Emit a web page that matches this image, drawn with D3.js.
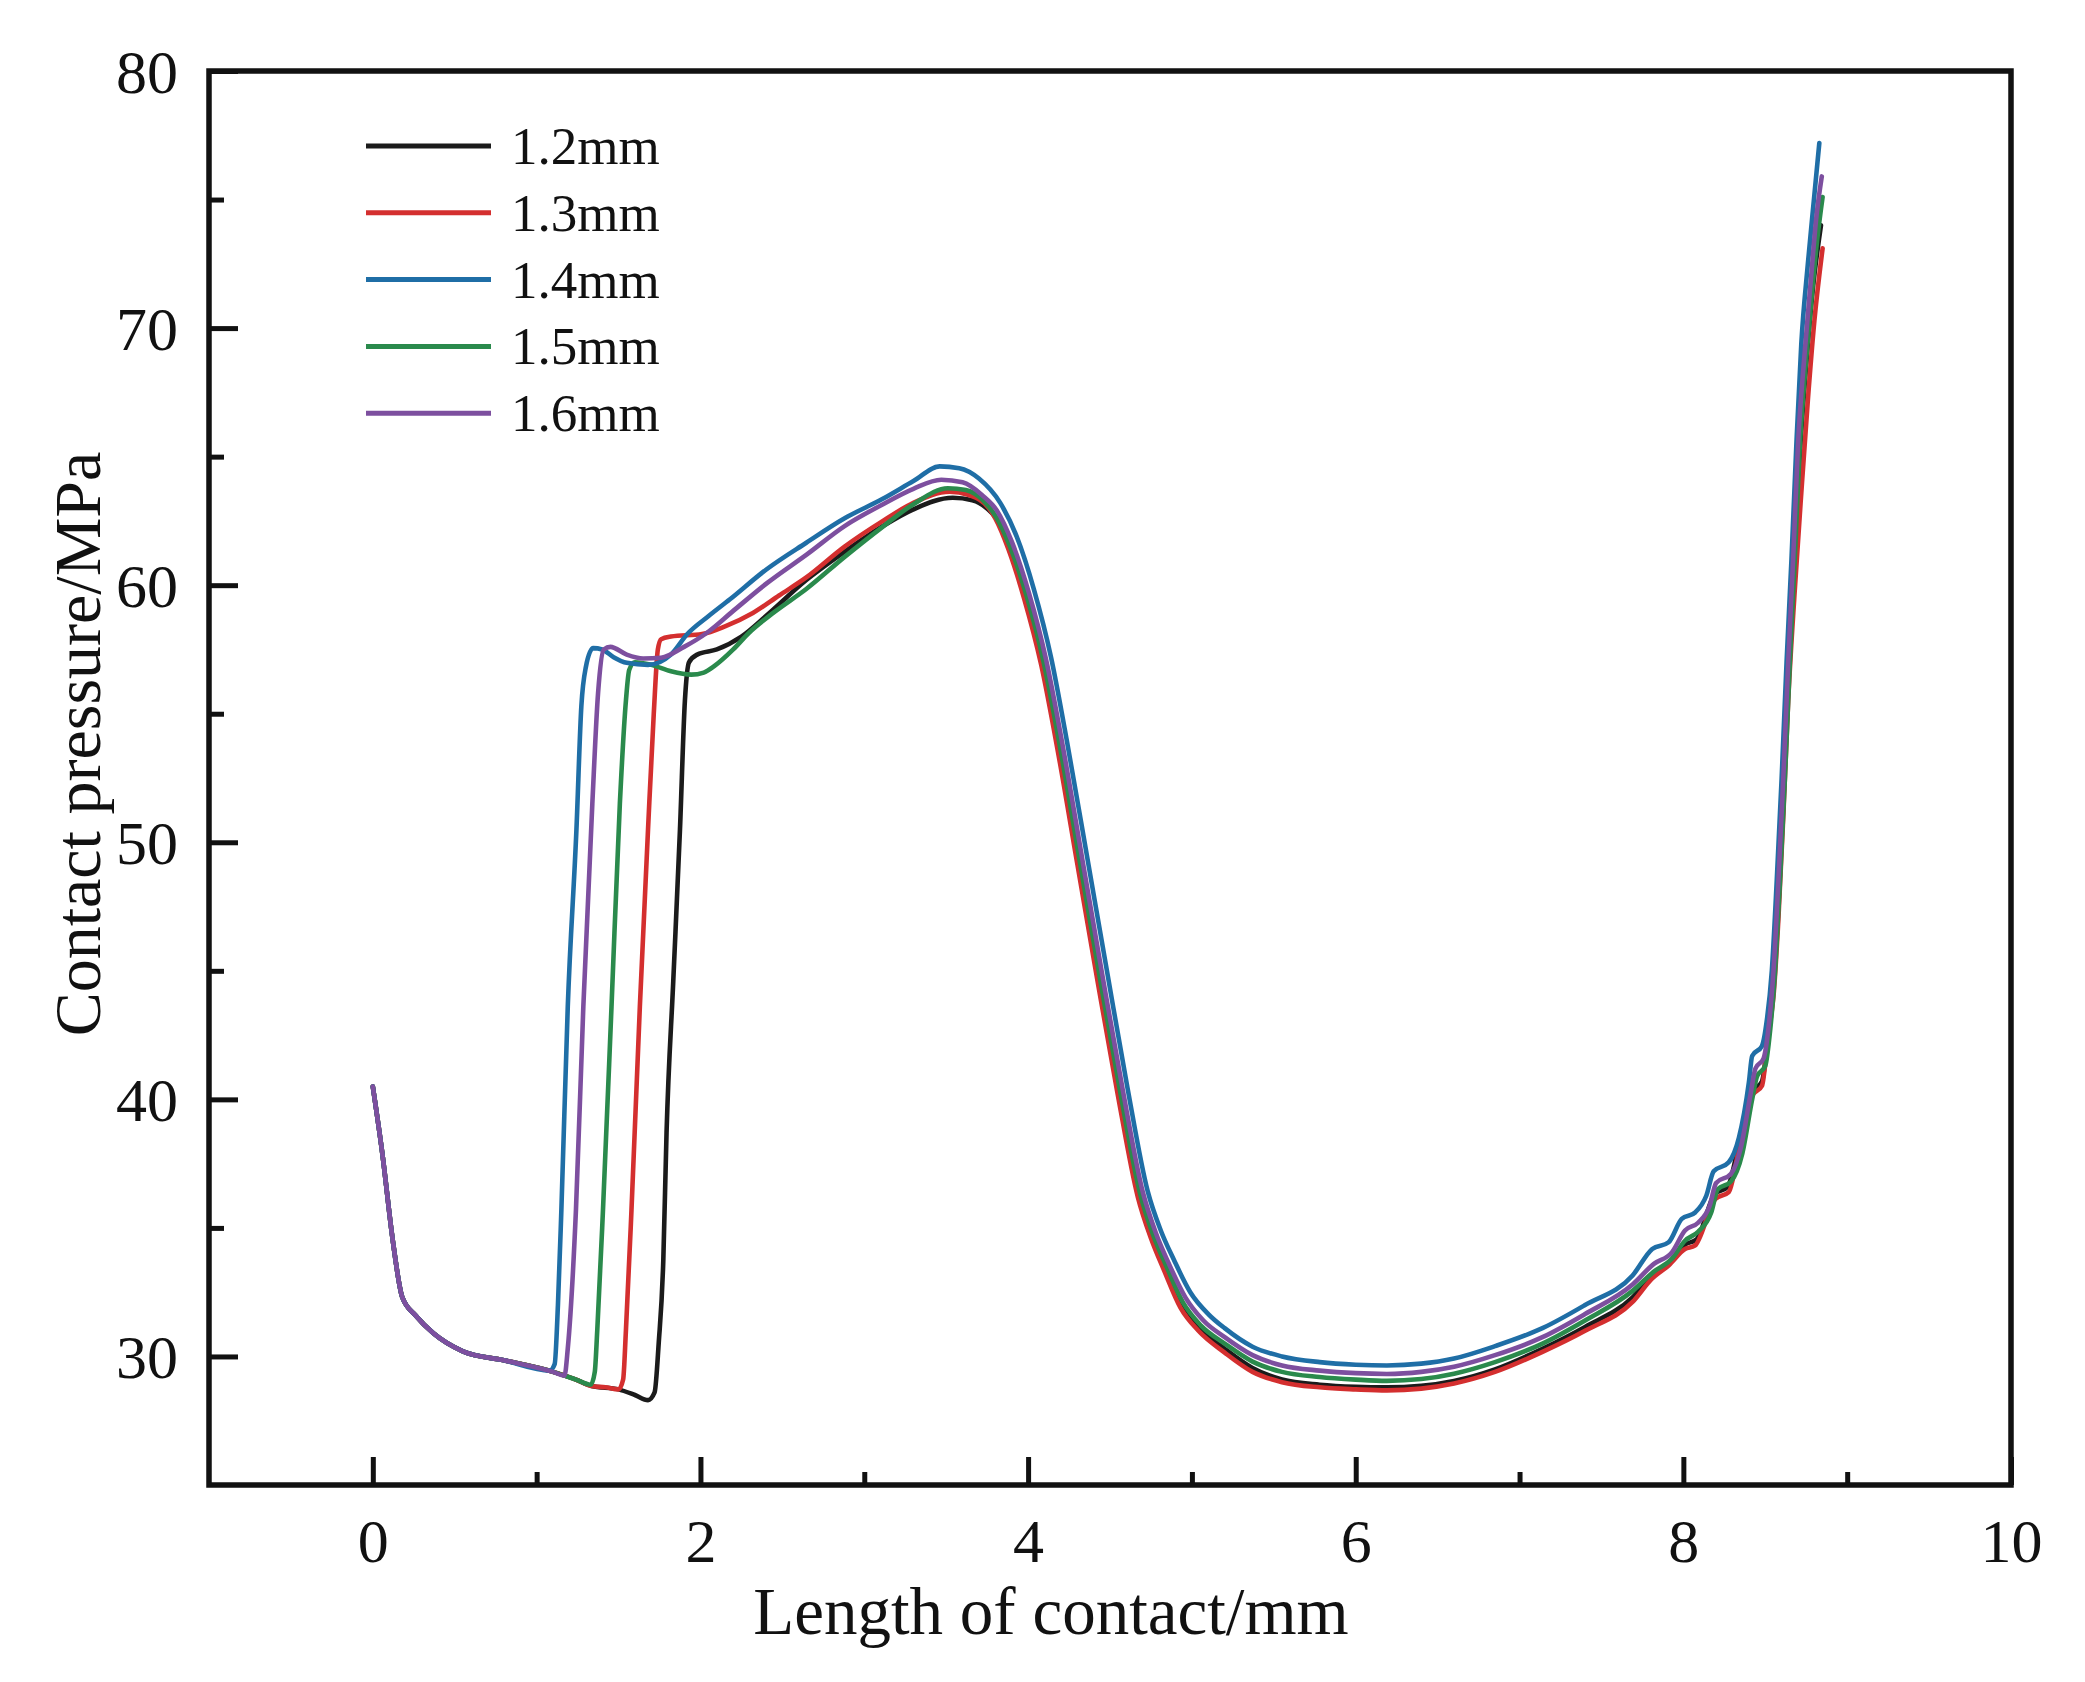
<!DOCTYPE html>
<html>
<head>
<meta charset="utf-8">
<script src="https://cdn.jsdelivr.net/npm/d3@7"></script>
<style>
  html, body { margin: 0; padding: 0; background: #ffffff; }
  svg { display: block; }
  text { font-family: "Liberation Serif", "Times New Roman", serif; fill: #111; }
</style>
</head>
<body>
<svg id="chart" width="2085" height="1682"></svg>
<script>
// ---------------- DATA ----------------
const seriesNames = ["1.2mm", "1.3mm", "1.4mm", "1.5mm", "1.6mm"];
const xTickValues = [0, 2, 4, 6, 8, 10];
const xMinorTicks = [1, 3, 5, 7, 9];
const yTickValues = [30, 40, 50, 60, 70, 80];
const yMinorTicks = [35, 45, 55, 65, 75];

const s12 = [[0,40.5],[0.06,37.8],[0.12,34.6],[0.18,32.3],[0.26,31.6],[0.37,30.9],[0.55,30.2],[0.8,29.85],[1.1,29.4],[1.24,29.1],[1.335,28.85],[1.5,28.72],[1.6,28.5],[1.68,28.3],[1.72,28.6],[1.745,30.5],[1.773,33.7],[1.793,38.7],[1.834,44.6],[1.875,50.5],[1.905,55.5],[1.93,57.0],[1.98,57.3],[2.1,57.5],[2.25,58.0],[2.4,58.8],[2.646,60.2],[2.88,61.3],[3.114,62.3],[3.3,62.95],[3.54,63.4],[3.66,63.3],[3.78,62.8],[3.82,62.5],[3.9,61.3],[3.985,59.5],[4.085,56.9],[4.185,53.6],[4.307,49.1],[4.429,44.6],[4.552,40.2],[4.675,36.2],[4.755,34.6],[4.835,33.4],[4.935,32.0],[5.045,31.1],[5.2,30.3],[5.37,29.55],[5.55,29.1],[5.78,28.9],[6.0,28.82],[6.19,28.8],[6.4,28.86],[6.6,29.05],[6.85,29.5],[7.14,30.3],[7.4,31.15],[7.69,32.3],[7.81,33.15],[7.92,33.7],[8.01,34.35],[8.08,34.55],[8.19,36.3],[8.27,36.6],[8.35,38.6],[8.42,40.3],[8.48,40.7],[8.52,42.7],[8.55,44.5],[8.58,47.5],[8.61,51.5],[8.64,56],[8.67,60],[8.71,65],[8.75,68.6],[8.79,71.5],[8.84,74.0]];

const s13 = [[0,40.5],[0.06,37.8],[0.12,34.6],[0.18,32.3],[0.26,31.6],[0.37,30.9],[0.55,30.2],[0.8,29.85],[1.1,29.4],[1.24,29.1],[1.335,28.85],[1.42,28.8],[1.5,28.72],[1.528,29.1],[1.545,31],[1.579,35.7],[1.63,43.6],[1.68,50.5],[1.715,55],[1.74,57.5],[1.76,57.9],[1.82,58.0],[2.01,58.1],[2.15,58.4],[2.32,58.92],[2.48,59.6],[2.646,60.3],[2.88,61.5],[3.114,62.5],[3.3,63.2],[3.52,63.64],[3.64,63.5],[3.76,63.0],[3.8,62.6],[3.88,61.4],[3.975,59.5],[4.08,56.9],[4.18,53.6],[4.302,49.1],[4.424,44.6],[4.547,40.2],[4.67,36.2],[4.75,34.6],[4.83,33.35],[4.93,31.9],[5.04,31.0],[5.2,30.15],[5.37,29.4],[5.55,29.0],[5.78,28.8],[6.0,28.72],[6.19,28.68],[6.4,28.75],[6.6,28.95],[6.85,29.4],[7.14,30.18],[7.4,31.0],[7.69,32.12],[7.807,33.02],[7.91,33.54],[8.01,34.18],[8.07,34.31],[8.196,36.13],[8.277,36.39],[8.358,38.72],[8.42,40.14],[8.48,40.53],[8.52,42.6],[8.55,44],[8.58,47],[8.61,51],[8.64,55.5],[8.68,59.8],[8.72,63.6],[8.76,67.2],[8.8,70.3],[8.85,73.1]];

const s14 = [[0,40.5],[0.06,37.8],[0.12,34.6],[0.18,32.3],[0.26,31.6],[0.37,30.9],[0.55,30.2],[0.8,29.85],[1.08,29.45],[1.11,29.7],[1.13,32.0],[1.151,35.7],[1.19,43.6],[1.243,50.5],[1.273,55.3],[1.30,56.8],[1.345,57.55],[1.40,57.5],[1.47,57.2],[1.55,56.98],[1.68,56.9],[1.82,57.3],[1.92,58.1],[2.05,58.8],[2.18,59.45],[2.4,60.6],[2.646,61.65],[2.88,62.6],[3.11,63.35],[3.3,64.05],[3.46,64.62],[3.58,64.55],[3.70,64.15],[3.83,63.2],[3.93,61.9],[4.035,59.85],[4.14,57.2],[4.24,53.83],[4.362,49.37],[4.484,44.9],[4.607,40.44],[4.73,36.43],[4.81,34.9],[4.89,33.76],[4.99,32.5],[5.1,31.65],[5.2,31.1],[5.37,30.38],[5.55,30.0],[5.78,29.78],[6.0,29.68],[6.19,29.65],[6.4,29.72],[6.6,29.92],[6.85,30.4],[7.14,31.1],[7.4,32.0],[7.69,33.15],[7.81,34.18],[7.91,34.44],[7.99,35.35],[8.072,35.6],[8.14,36.25],[8.185,37.2],[8.277,37.55],[8.339,38.5],[8.40,40.66],[8.42,41.69],[8.48,42.08],[8.51,43.1],[8.54,45],[8.57,48.5],[8.6,52.5],[8.63,57],[8.66,61],[8.69,65.5],[8.72,69.4],[8.76,72.5],[8.8,75.2],[8.83,77.2]];

const s15 = [[0,40.5],[0.06,37.8],[0.12,34.6],[0.18,32.3],[0.26,31.6],[0.37,30.9],[0.55,30.2],[0.8,29.85],[1.1,29.4],[1.24,29.1],[1.33,28.9],[1.355,29.4],[1.37,31],[1.405,35.7],[1.457,43.6],[1.508,51.5],[1.545,55.5],[1.565,56.7],[1.6,57.0],[1.7,56.9],[1.82,56.65],[1.944,56.52],[2.02,56.6],[2.084,56.85],[2.2,57.5],[2.295,58.14],[2.45,58.95],[2.646,59.85],[2.88,61.1],[3.114,62.28],[3.3,63.15],[3.51,63.77],[3.62,63.7],[3.74,63.2],[3.8,62.7],[3.89,61.5],[3.99,59.6],[4.095,57.0],[4.195,53.7],[4.317,49.2],[4.439,44.7],[4.562,40.3],[4.685,36.3],[4.765,34.7],[4.845,33.5],[4.945,32.1],[5.055,31.2],[5.2,30.5],[5.37,29.8],[5.55,29.4],[5.78,29.2],[6.0,29.1],[6.19,29.05],[6.4,29.12],[6.6,29.33],[6.85,29.78],[7.14,30.5],[7.4,31.4],[7.69,32.55],[7.82,33.3],[7.93,33.8],[8.01,34.5],[8.09,34.85],[8.17,35.6],[8.21,36.5],[8.29,36.8],[8.36,37.9],[8.42,40.0],[8.45,40.9],[8.5,41.3],[8.53,42.7],[8.56,45],[8.59,48.5],[8.62,52.5],[8.65,57],[8.68,61],[8.71,65.3],[8.75,68.8],[8.79,71.7],[8.82,73.6],[8.85,75.1]];

const s16 = [[0,40.5],[0.06,37.8],[0.12,34.6],[0.18,32.3],[0.26,31.6],[0.37,30.9],[0.55,30.2],[0.8,29.85],[1.1,29.4],[1.17,29.25],[1.19,30.3],[1.24,35.7],[1.285,43.6],[1.34,51.5],[1.375,55.8],[1.41,57.5],[1.45,57.6],[1.55,57.3],[1.65,57.15],[1.76,57.18],[1.9,57.6],[2.04,58.15],[2.2,59.0],[2.41,60.1],[2.65,61.2],[2.88,62.3],[3.1,63.1],[3.3,63.75],[3.47,64.1],[3.6,64.0],[3.72,63.5],[3.81,62.9],[3.9,61.7],[4.005,59.7],[4.11,57.1],[4.21,53.8],[4.332,49.3],[4.454,44.8],[4.577,40.4],[4.70,36.4],[4.78,34.8],[4.86,33.6],[4.96,32.3],[5.07,31.4],[5.2,30.75],[5.37,30.05],[5.55,29.65],[5.78,29.45],[6.0,29.35],[6.19,29.32],[6.4,29.4],[6.6,29.6],[6.85,30.05],[7.14,30.75],[7.4,31.65],[7.69,32.8],[7.82,33.6],[7.93,34.05],[8.01,34.9],[8.09,35.2],[8.16,35.85],[8.2,36.75],[8.29,37.1],[8.35,38.1],[8.41,40.2],[8.44,41.2],[8.49,41.6],[8.52,42.8],[8.55,45],[8.58,48.5],[8.61,52.5],[8.64,57],[8.67,61],[8.70,65.5],[8.74,69],[8.78,72],[8.81,74.2],[8.845,75.9]];

const seriesData = [s12, s13, s14, s15, s16];
const seriesColors = ["#1b1b1b", "#d42f2f", "#1f6ea6", "#2a8a4c", "#7d4f9f"];
const drawOrder = [0, 1, 3, 2, 4];

// ---------------- LAYOUT ----------------
const svg = d3.select("#chart");
const L = 209, R = 2011, T = 71, B = 1485;

const x = d3.scaleLinear().domain([-1, 10]).range([L, R]);
const y = d3.scaleLinear().domain([25, 80]).range([B, T]);

svg.append("rect").attr("width", 2085).attr("height", 1682).attr("fill", "#ffffff");

// lines
const line = d3.line()
  .x(d => x(d[0]))
  .y(d => y(d[1]))
  .curve(d3.curveMonotoneX);

const gLines = svg.append("g");
drawOrder.forEach(i => {
  gLines.append("path")
    .datum(seriesData[i])
    .attr("d", line)
    .attr("fill", "none")
    .attr("stroke", seriesColors[i])
    .attr("stroke-width", 4.6)
    .attr("stroke-linejoin", "round")
    .attr("stroke-linecap", "round");
});

// axes - major
const xAxis = d3.axisBottom(x).tickValues(xTickValues).tickSizeInner(-28).tickSizeOuter(0).tickFormat(d3.format("d"));
const gx = svg.append("g").attr("transform", `translate(0,${B})`).call(xAxis);
gx.select(".domain").remove();
gx.selectAll(".tick line").attr("stroke", "#111").attr("stroke-width", 5);
gx.selectAll(".tick text")
  .attr("y", 77).attr("dy", 0)
  .style("font-family", '"Liberation Serif", serif')
  .style("font-size", "62px").attr("fill", "#111");

const xAxisMinor = d3.axisBottom(x).tickValues(xMinorTicks).tickSizeInner(-13).tickSizeOuter(0).tickFormat("");
const gxm = svg.append("g").attr("transform", `translate(0,${B})`).call(xAxisMinor);
gxm.select(".domain").remove();
gxm.selectAll(".tick line").attr("stroke", "#111").attr("stroke-width", 5);

const yAxis = d3.axisLeft(y).tickValues(yTickValues).tickSizeInner(-29).tickSizeOuter(0).tickFormat(d3.format("d"));
const gy = svg.append("g").attr("transform", `translate(${L},0)`).call(yAxis);
gy.select(".domain").remove();
gy.selectAll(".tick line").attr("stroke", "#111").attr("stroke-width", 5);
gy.selectAll(".tick text")
  .attr("x", -31).attr("dy", "0.34em")
  .style("font-family", '"Liberation Serif", serif')
  .style("font-size", "62px").attr("fill", "#111");

const yAxisMinor = d3.axisLeft(y).tickValues(yMinorTicks).tickSizeInner(-15).tickSizeOuter(0).tickFormat("");
const gym = svg.append("g").attr("transform", `translate(${L},0)`).call(yAxisMinor);
gym.select(".domain").remove();
gym.selectAll(".tick line").attr("stroke", "#111").attr("stroke-width", 5);

// frame
svg.append("rect")
  .attr("x", L).attr("y", T).attr("width", R - L).attr("height", B - T)
  .attr("fill", "none").attr("stroke", "#111").attr("stroke-width", 5.5);

// axis titles
svg.append("text")
  .attr("x", 1051).attr("y", 1634)
  .attr("text-anchor", "middle")
  .style("font-size", "67px")
  .text("Length of contact/mm");

svg.append("text")
  .attr("transform", "translate(100,744) rotate(-90)")
  .attr("text-anchor", "middle")
  .style("font-size", "66px")
  .text("Contact pressure/MPa");

// legend
const legend = svg.append("g");
seriesNames.forEach((name, i) => {
  const ly = 146 + i * 66.8;
  legend.append("line")
    .attr("x1", 366).attr("x2", 491).attr("y1", ly).attr("y2", ly)
    .attr("stroke", seriesColors[i]).attr("stroke-width", 5);
  legend.append("text")
    .attr("x", 511).attr("y", ly).attr("dy", "0.34em")
    .style("font-size", "53px")
    .text(name);
});
</script>
</body>
</html>
